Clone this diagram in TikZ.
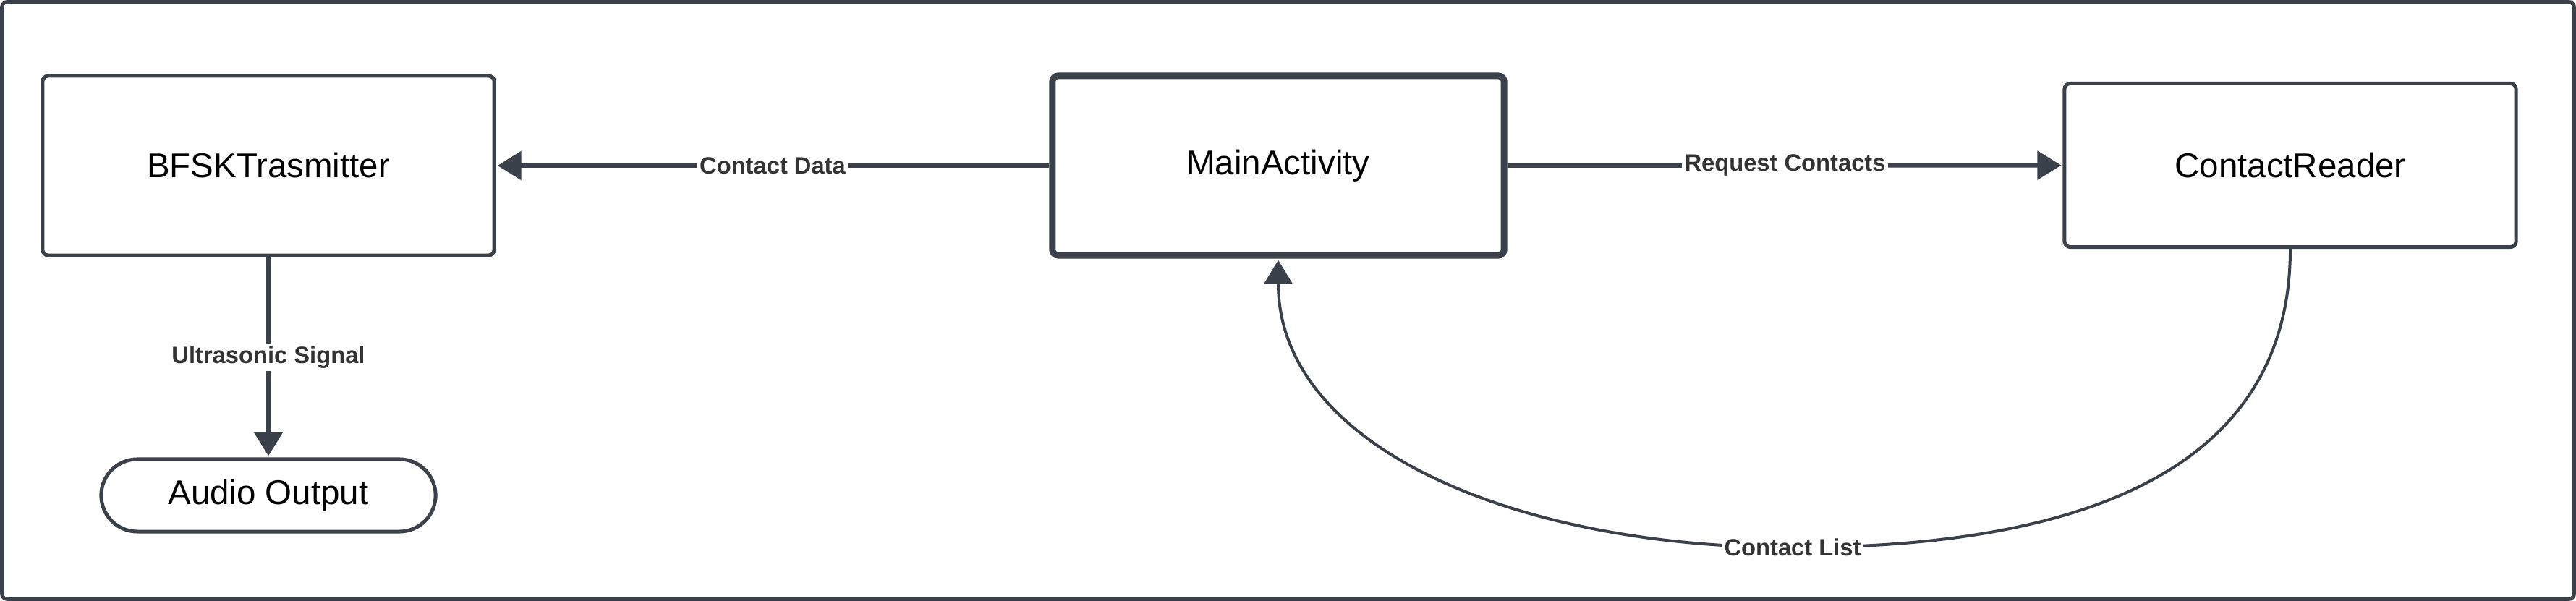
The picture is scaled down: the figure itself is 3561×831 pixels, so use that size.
\documentclass[tikz,border=0pt]{standalone}
\usepackage{fontspec}
\setmainfont{Liberation Sans}
\usetikzlibrary{arrows.meta}
\definecolor{archSlate}{HTML}{3A414A}
\definecolor{archInk}{HTML}{333333}
\tikzset{
  arch diagram/.style={
    x=0.01cm, y=-0.01cm,
    draw=archSlate, line width=0.05cm,
    >={Triangle[length=0.33cm,width=0.39cm]},
    every node/.style={font=\fontsize{13.5}{16}\selectfont, text=black}
  },
  arch box/.style={draw=archSlate, line width=0.05cm, rounded corners=0.08cm,
    minimum width=6.24cm, minimum height=2.48cm, inner sep=0pt},
  arch main/.style={arch box, line width=0.09cm},
  arch term/.style={draw=archSlate, line width=0.05cm, rounded corners=0.5cm,
    minimum width=4.62cm, minimum height=1cm, inner sep=0pt},
  arch link/.style={draw=archSlate, line width=0.06cm, ->, shorten >=0.02cm},
  arch label/.style={fill=white, inner sep=1pt, text=archInk,
    font=\bfseries\fontsize{9.3}{11}\selectfont}
}

\begin{document}
\begin{tikzpicture}[arch diagram]
    \useasboundingbox (0,0) rectangle (3561,831);
    \draw[rounded corners=0.08cm, fill=white] (2.5,2.5) rectangle (3558.5,828.5);
    \node[arch box] (bfsk) at (371,229) {BFSKTrasmitter};
    \node[arch main] (main) at (1767,229) {MainActivity};
    \node[arch box, minimum height=2.26cm] (reader) at (3166,228.5) {ContactReader};
    \node[arch term] (audio) at (371,685) {Audio Output};
    \coordinate (listmid) at (2478,757);
    \draw[arch link] (main) -- node[arch label] {Contact Data} (bfsk);
    \draw[arch link] (main) -- node[arch label] {Request Contacts} (reader);
    \draw[arch link] (bfsk) -- node[arch label] {Ultrasonic Signal} (audio);
    \draw[arch link, line width=0.04cm] (reader.south)
      .. controls +(0,295) and +(420,0) .. (listmid) node[arch label] {Contact List}
      .. controls +(-380,0) and +(0,262) .. (main.south);
  \end{tikzpicture}
\end{document}
